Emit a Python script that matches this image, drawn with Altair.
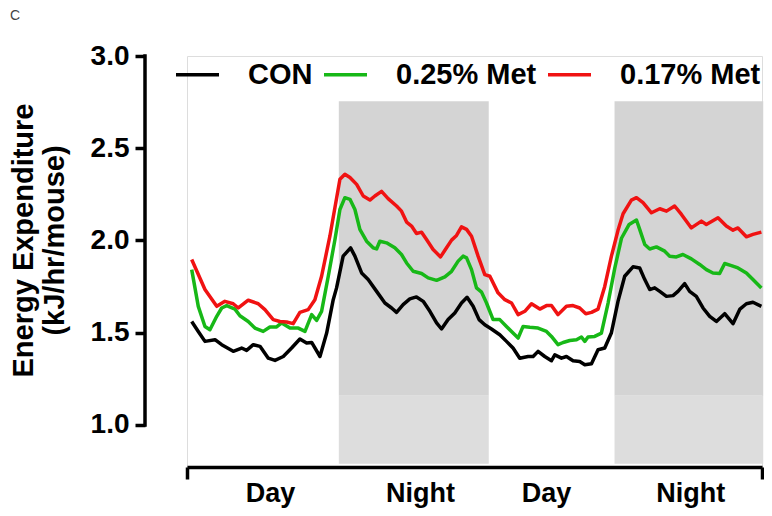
import altair as alt
import pandas as pd

# ---------------- data (hours from start of recording, kJ/hr/mouse) ----------------
series_names = ["CON", "0.25% Met", "0.17% Met"]
series_colors = ["#000000", "#17b817", "#f01212"]

con_h = [0.38, 0.91, 1.45, 2.26, 2.80, 3.73, 4.41, 4.81, 5.35, 5.89, 6.56, 7.10, 7.77, 8.44,
         9.11, 9.65, 10.06, 10.73, 11.27, 11.80, 12.07, 12.60, 13.20, 13.55, 14.09, 14.62,
         15.30, 15.97, 16.51, 16.91, 17.44, 17.98, 18.52, 19.06, 19.60, 20.14, 20.54, 21.07,
         21.61, 22.15, 22.60, 23.09, 23.57, 24.03, 24.57, 25.24, 25.78, 26.31, 26.85, 27.52,
         27.93, 28.33, 28.87, 29.41, 29.68, 30.22, 30.62, 31.15, 31.69, 32.10, 32.64, 33.17,
         33.71, 34.25, 34.78, 35.32, 35.99, 36.53, 36.94, 37.34, 37.74, 38.15, 38.69, 39.22,
         39.62, 40.16, 40.56, 41.10, 41.64, 42.18, 42.72, 43.39, 44.06, 44.62, 45.14, 45.67,
         46.35]
con_v = [1.561, 1.507, 1.453, 1.462, 1.435, 1.399, 1.417, 1.404, 1.435, 1.426, 1.362, 1.350,
         1.371, 1.417, 1.466, 1.444, 1.447, 1.371, 1.498, 1.679, 1.743, 1.915, 1.960, 1.915,
         1.824, 1.788, 1.724, 1.661, 1.634, 1.610, 1.652, 1.683, 1.694, 1.670, 1.616, 1.553,
         1.520, 1.571, 1.607, 1.661, 1.692, 1.643, 1.571, 1.543, 1.520, 1.489, 1.453, 1.417,
         1.362, 1.371, 1.371, 1.399, 1.371, 1.348, 1.380, 1.362, 1.371, 1.348, 1.344, 1.326,
         1.332, 1.408, 1.417, 1.500, 1.670, 1.806, 1.857, 1.851, 1.788, 1.734, 1.743, 1.724,
         1.697, 1.701, 1.724, 1.766, 1.724, 1.697, 1.634, 1.589, 1.561, 1.603, 1.549, 1.628,
         1.657, 1.665, 1.643]

met25_h = [0.38, 0.91, 1.45, 1.85, 2.40, 2.80, 3.20, 3.87, 4.27, 4.94, 5.48, 6.15, 6.69, 7.23,
           7.64, 8.31, 8.98, 9.52, 10.06, 10.46, 10.86, 11.40, 11.94, 12.34, 12.74, 13.15,
           13.55, 13.95, 14.49, 15.02, 15.30, 15.56, 16.10, 16.77, 17.31, 17.72, 18.25, 18.93,
           19.46, 20.14, 20.81, 21.35, 21.88, 22.28, 22.56, 22.96, 23.36, 23.77, 24.17, 24.70,
           25.24, 25.78, 26.31, 26.72, 27.12, 27.66, 28.33, 29.01, 29.41, 29.94, 30.35, 30.89,
           31.43, 31.83, 32.10, 32.36, 32.90, 33.44, 33.98, 34.52, 35.06, 35.68, 36.27, 36.53,
           36.94, 37.34, 37.88, 38.55, 38.95, 39.49, 40.02, 40.70, 41.37, 41.91, 42.44, 42.98,
           43.39, 43.93, 44.46, 45.14, 45.67, 46.35]
met25_v = [1.842, 1.643, 1.534, 1.516, 1.589, 1.634, 1.647, 1.628, 1.592, 1.561, 1.525, 1.507,
           1.531, 1.531, 1.553, 1.525, 1.525, 1.507, 1.598, 1.567, 1.616, 1.806, 2.005, 2.168,
           2.232, 2.223, 2.168, 2.060, 1.996, 1.960, 1.954, 1.996, 1.987, 1.960, 1.924, 1.878,
           1.833, 1.821, 1.797, 1.784, 1.803, 1.833, 1.888, 1.915, 1.906, 1.842, 1.743, 1.720,
           1.661, 1.571, 1.571, 1.534, 1.498, 1.471, 1.534, 1.529, 1.525, 1.507, 1.480, 1.435,
           1.447, 1.458, 1.462, 1.477, 1.453, 1.477, 1.480, 1.498, 1.661, 1.850, 2.012, 2.087,
           2.111, 2.060, 1.978, 1.954, 1.965, 1.942, 1.915, 1.911, 1.924, 1.900, 1.870, 1.842,
           1.824, 1.821, 1.875, 1.864, 1.851, 1.824, 1.788, 1.743]

met17_h = [0.38, 1.45, 2.40, 3.06, 3.73, 4.14, 4.94, 5.75, 6.29, 6.96, 7.50, 8.04, 8.57, 9.11,
           9.78, 10.32, 10.86, 11.53, 12.34, 12.74, 13.15, 13.69, 14.22, 14.76, 15.16, 15.70,
           16.23, 16.91, 17.31, 17.72, 18.12, 18.52, 18.93, 19.33, 19.86, 20.46, 20.81, 21.35,
           21.75, 22.15, 22.56, 22.96, 23.49, 24.03, 24.44, 25.10, 25.65, 26.19, 26.72, 27.26,
           27.80, 28.47, 29.01, 29.41, 29.94, 30.62, 31.15, 31.69, 32.18, 32.64, 33.17, 33.71,
           34.25, 34.78, 35.19, 35.86, 36.27, 36.80, 37.48, 38.15, 38.69, 39.35, 39.90, 40.70,
           41.51, 41.91, 42.85, 43.52, 44.06, 44.46, 45.14, 45.67, 46.35]
met17_v = [1.897, 1.734, 1.643, 1.670, 1.657, 1.634, 1.676, 1.657, 1.625, 1.571, 1.561, 1.558,
           1.549, 1.610, 1.625, 1.679, 1.806, 2.023, 2.332, 2.359, 2.341, 2.304, 2.241, 2.219,
           2.241, 2.266, 2.227, 2.187, 2.159, 2.100, 2.078, 2.038, 2.045, 2.005, 1.951, 1.911,
           1.947, 2.002, 2.027, 2.074, 2.060, 2.023, 1.915, 1.815, 1.806, 1.716, 1.679, 1.661,
           1.598, 1.616, 1.657, 1.628, 1.647, 1.647, 1.598, 1.643, 1.647, 1.634, 1.603, 1.610,
           1.628, 1.751, 1.915, 2.055, 2.145, 2.219, 2.232, 2.205, 2.150, 2.172, 2.159, 2.187,
           2.141, 2.068, 2.105, 2.087, 2.123, 2.078, 2.056, 2.068, 2.020, 2.033, 2.045]

# light/dark shading (night periods)
night_start = [12.25, 34.5]
night_end = [24.35, 46.5]
shade_levels = [2.755, 1.158, 0.79]          # top of dark band, dark/light boundary, bottom
shade_colors = ["#d4d4d4", "#dddddd"]

# axes
x_domain = [0, 46.4]
y_domain = [0.772, 3.0]
y_ticks = [1.0, 1.5, 2.0, 2.5, 3.0]
period_labels = ["Day", "Night", "Day", "Night"]
period_label_pos = [6.7, 18.8, 28.97, 40.6]
panel_letter = "C"

# ---------------- build tables ----------------
rows = []
for name, hs, vs in zip(series_names, [con_h, met25_h, met17_h], [con_v, met25_v, met17_v]):
    for h, v in zip(hs, vs):
        rows.append({"hour": h, "ee": v, "group": name})
lines_df = pd.DataFrame(rows)

shade_rows = []
for s, e in zip(night_start, night_end):
    shade_rows.append({"x": s, "x2": e, "y": shade_levels[0], "y2": shade_levels[1], "c": shade_colors[0]})
    shade_rows.append({"x": s, "x2": e, "y": shade_levels[1], "y2": shade_levels[2], "c": shade_colors[1]})
shade_df = pd.DataFrame(shade_rows)

FONT = "Liberation Sans"

label_expr = "".join(
    f"datum.value == {p} ? '{t}' : " for p, t in zip(period_label_pos, period_labels)
) + "''"
end_test = f"datum.value == {x_domain[0]} || datum.value == {x_domain[1]}"

x_scale = alt.Scale(domain=x_domain, nice=False, zero=False)
y_scale = alt.Scale(domain=y_domain, nice=False, zero=False)

x_axis = alt.Axis(
    values=[x_domain[0]] + period_label_pos + [x_domain[1]],
    labelExpr=label_expr,
    title=None,
    grid=False,
    domainColor="black",
    domainWidth=3.5,
    tickColor="black",
    tickWidth=3.5,
    tickSize=12,
    tickOpacity={"condition": {"test": end_test, "value": 1}, "value": 0},
    labelFont=FONT,
    labelFontSize=27,
    labelFontWeight="bold",
    labelColor="black",
    labelPadding=1,
    labelFlush=False,
    labelOverlap=False,
)

y_axis = alt.Axis(
    values=y_ticks,
    format=".1f",
    title=["Energy Expenditure", "(kJ/hr/mouse)"],
    titleFont=FONT,
    titleFontSize=29,
    titleFontWeight="bold",
    titleColor="black",
    titleLineHeight=31,
    titleAngle=270,
    titleAlign="center",
    titleBaseline="bottom",
    titleX=-107,
    titleY=184,
    grid=False,
    domain=False,
    offset=42,
    tickColor="black",
    tickWidth=3.5,
    tickSize=10,
    labelFont=FONT,
    labelFontSize=28,
    labelFontWeight="bold",
    labelColor="black",
    labelPadding=6,
)

shade = alt.Chart(shade_df).mark_rect().encode(
    x=alt.X("x:Q", scale=x_scale, axis=x_axis),
    x2="x2:Q",
    y=alt.Y("y:Q", scale=y_scale, axis=y_axis),
    y2="y2:Q",
    color=alt.Color("c:N", scale=None),
)

lines = alt.Chart(lines_df).mark_line(strokeWidth=3.5, strokeJoin="round").encode(
    x=alt.X("hour:Q", scale=x_scale),
    y=alt.Y("ee:Q", scale=y_scale),
    color=alt.Color(
        "group:N",
        scale=alt.Scale(domain=series_names, range=series_colors),
        legend=alt.Legend(
            title=None,
            orient="none",
            legendX=-13,
            legendY=-5,
            direction="horizontal",
            symbolType="stroke",
            symbolSize=1849,
            symbolStrokeWidth=3.5,
            labelFont=FONT,
            labelFontSize=29,
            labelFontWeight="bold",
            labelColor="black",
            labelOffset=27,
            columnPadding=4,
            labelLimit=400,
        ),
    ),
    order=alt.Order("hour:Q"),
)

y_rule = alt.Chart(pd.DataFrame({"lo": [y_ticks[0]], "hi": [y_ticks[-1]]})).mark_rule(
    color="black", strokeWidth=3.5, strokeCap="square"
).encode(
    x=alt.value(-42),
    y=alt.Y("lo:Q", scale=y_scale),
    y2="hi:Q",
)

letter = alt.Chart(pd.DataFrame({"t": [panel_letter]})).mark_text(
    font=FONT, fontSize=14, color="#444444", align="left", baseline="alphabetic"
).encode(text="t:N", x=alt.value(-177), y=alt.value(-36))

chart = alt.layer(shade, lines, y_rule, letter).properties(
    width=575,
    height=411,
    autosize=alt.AutoSizeParams(type="none"),
    padding={"left": 179, "top": 48, "right": 2, "bottom": 41},
).configure_view(stroke=None).configure(background="white")

chart.save("out.html", embed_options={"renderer": "svg", "actions": False})
